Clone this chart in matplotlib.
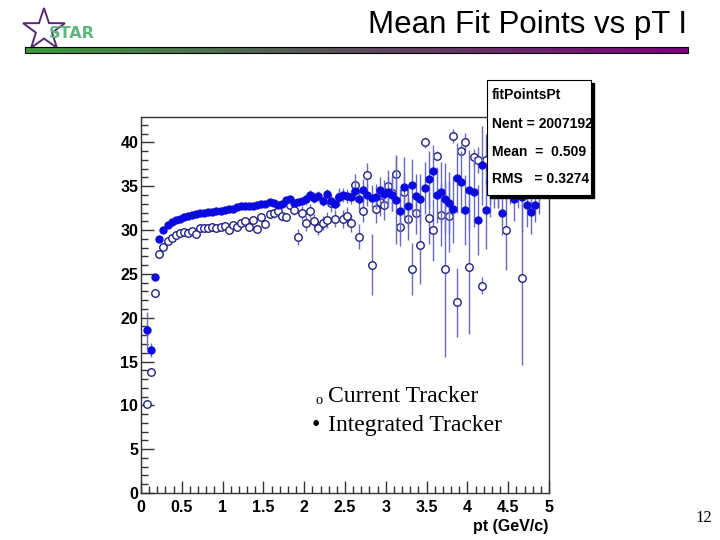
import numpy as np
import matplotlib.pyplot as plt
from matplotlib.patches import Rectangle, Polygon
from matplotlib.ticker import MultipleLocator

# pt bin centres (0.05 GeV/c bins)
pt = np.round(np.arange(0.075, 5.0, 0.05), 3)

# Current Tracker (open circles)
current = [10.2, 13.75, 22.85, 27.3, 28.1, 28.8, 29.05, 29.45, 29.65, 29.75,
           29.7, 29.85, 29.6, 30.2, 30.2, 30.2, 30.35, 30.2, 30.3, 30.5,
           30.05, 30.6, 30.3, 30.85, 31.0, 30.4, 31.15, 30.1, 31.5, 30.7,
           31.85, 31.9, 32.2, 31.55, 31.5, 32.9, 32.25, 29.2, 32.0, 30.75,
           32.2, 31.0, 30.2, 30.85, 31.15, 33.1, 31.3, 33.8, 31.25, 31.6,
           30.75, 35.1, 29.25, 32.2, 36.25, 26.05, 32.35, 33.25, 32.9, 35.0,
           34.2, 36.4, 30.4, 34.3, 31.25, 25.55, 32.0, 28.3, 40.0, 31.4,
           30.0, 38.5, 31.7, 25.55, 31.55, 40.7, 21.75, 39.05, 40.05, 25.8,
           38.3, 38.0, 23.65, 38.0, 37.0, np.nan, 36.0, np.nan, 30.0, np.nan,
           np.nan, np.nan, 24.55, np.nan, np.nan, np.nan, np.nan, np.nan, np.nan]
current_err = [0.2, 0.3, 0.2, 0.15, 0.15, 0.15, 0.15, 0.15, 0.15, 0.15,
               0.15, 0.15, 0.15, 0.2, 0.2, 0.2, 0.2, 0.2, 0.2, 0.2,
               0.2, 0.2, 0.2, 0.2, 0.2, 0.3, 0.3, 0.3, 0.3, 0.3,
               0.3, 0.5, 0.5, 0.5, 0.5, 0.5, 0.5, 0.9, 0.8, 0.8,
               0.8, 0.8, 0.8, 0.8, 0.9, 1.0, 1.0, 1.0, 1.0, 1.0,
               1.0, 1.3, 1.4, 1.3, 1.4, 3.5, 1.5, 1.6, 1.8, 1.9,
               2.0, 2.2, 2.2, 2.2, 2.4, 3.0, 2.5, 4.5, 0.6, 3.0,
               3.5, 0.5, 3.5, 10.0, 4.0, 0.8, 3.9, 0.6, 1.0, 7.7,
               1.0, 1.5, 1.0, 3.0, 4.0, 0.0, 3.5, 0.0, 4.5, 0.0,
               0.0, 0.0, 10.0, 0.0, 0.0, 0.0, 0.0, 0.0, 0.0]

# Integrated Tracker (filled circles)
integrated = [18.55, 16.3, 24.7, 28.95, 30.0, 30.6, 30.9, 31.1, 31.3, 31.45,
              31.6, 31.75, 31.85, 31.95, 32.0, 32.05, 32.1, 32.15, 32.2, 32.3,
              32.35, 32.4, 32.65, 32.7, 32.75, 32.8, 32.8, 32.85, 32.95, 33.0,
              33.2, 33.05, 32.9, 32.95, 33.45, 33.6, 33.1, 33.2, 33.3, 33.5,
              34.0, 33.7, 33.9, 33.3, 34.1, 33.3, 33.0, 33.8, 34.0, 33.9,
              33.8, 34.5, 33.5, 34.55, 34.0, 33.7, 33.8, 34.55, 34.1, 34.3,
              34.0, 33.4, 32.2, 34.9, 32.8, 35.1, 33.9, 33.6, 34.8, 35.85,
              36.7, 34.05, 34.3, 33.6, 33.1, 32.35, 35.9, 35.5, 32.3, 34.6,
              34.35, 31.1, 37.4, 32.3, 35.5, 35.0, 36.0, 31.9, np.nan, 35.0,
              33.5, 35.5, 33.8, 32.9, 32.1, 32.9, 34.3, np.nan, np.nan]
integrated_err = [2.1, 0.8, 0.3, 0.15, 0.1, 0.1, 0.1, 0.1, 0.1, 0.1,
                  0.1, 0.1, 0.1, 0.1, 0.1, 0.1, 0.1, 0.1, 0.1, 0.1,
                  0.1, 0.1, 0.1, 0.1, 0.1, 0.1, 0.15, 0.15, 0.15, 0.2,
                  0.2, 0.3, 0.3, 0.3, 0.3, 0.3, 0.3, 0.3, 0.3, 0.6,
                  0.6, 0.6, 0.6, 0.6, 0.6, 0.6, 0.6, 0.8, 0.8, 0.8,
                  0.8, 1.2, 1.2, 1.3, 1.3, 1.4, 1.4, 1.5, 1.6, 1.7,
                  1.8, 5.0, 2.5, 3.4, 2.5, 3.0, 2.5, 2.8, 3.0, 3.2,
                  3.0, 3.2, 3.5, 4.0, 3.5, 3.8, 4.0, 3.5, 4.0, 4.5,
                  4.0, 4.0, 4.5, 4.5, 4.0, 2.5, 3.5, 2.5, 0.0, 2.0,
                  2.5, 3.0, 4.0, 2.5, 2.5, 2.0, 2.5, 0.0, 0.0]

title = "Mean Fit Points vs pT I"
stats = [("fitPointsPt", 95), ("Nent = 2007192", 124),
         ("Mean  =  0.509", 152), ("RMS   = 0.3274", 179)]

fig = plt.figure(figsize=(7.2, 5.4), dpi=100)

ax = fig.add_axes([141 / 720, 1 - 493 / 540, 408 / 720, 376 / 540])
ax.errorbar(pt, current, yerr=current_err, fmt='o', ms=5.4, mfc='white',
            mec='#20208a', mew=1.0, ecolor='#6868c8', elinewidth=1.0,
            capsize=0, zorder=2)
ax.errorbar(pt, integrated, yerr=integrated_err, fmt='o', ms=5.0,
            mfc='#0a0ae0', mec='#0a0ae0', ecolor='#6868c8', elinewidth=1.0,
            capsize=0, zorder=3)
ax.set_xlim(0, 5)
ax.set_ylim(0, 42.9)
ax.xaxis.set_major_locator(MultipleLocator(0.5))
ax.xaxis.set_minor_locator(MultipleLocator(0.1))
ax.yaxis.set_major_locator(MultipleLocator(5))
ax.yaxis.set_minor_locator(MultipleLocator(1))
ax.tick_params(which='both', direction='in', top=False, right=False,
               width=1, color='#333333')
ax.tick_params(which='major', length=9)
ax.tick_params(which='minor', length=5)
ax.tick_params(axis='y', pad=2)
ax.tick_params(axis='x', pad=5)
for lab in ax.get_yticklabels():
    lab.set_fontfamily('Liberation Sans')
    lab.set_fontweight('bold')
    lab.set_fontsize(11.5)
ax.set_xticks([0, 0.5, 1, 1.5, 2, 2.5, 3, 3.5, 4, 4.5, 5])
ax.set_xticklabels(['0', '0.5', '1', '1.5', '2', '2.5', '3', '3.5', '4', '4.5', '5'],
                   fontfamily='Liberation Sans', fontweight='bold', fontsize=11.5)
for s in ax.spines.values():
    s.set_color('#333333')
    s.set_linewidth(1)

# slide overlay in pixel coordinates
ov = fig.add_axes([0, 0, 1, 1], facecolor='none')
ov.axis('off')

ov.text(548, 527, "pt (GeV/c)", ha='right', va='center', fontsize=11.5,
        fontweight='bold', family='Liberation Sans')

# title and rule
ov.text(687, 25, title, ha='right', va='center', fontsize=22.5,
        family='Liberation Sans')
grad = np.linspace(0, 1, 256)
c0 = np.array([60, 155, 60]) / 255
c1 = np.array([125, 0, 125]) / 255
img = (c0[None, :] * (1 - grad[:, None]) + c1[None, :] * grad[:, None])[None, :, :]
ov.imshow(img, extent=[25, 688, 53, 47], aspect='auto', zorder=1)
ov.add_patch(Rectangle((25, 47), 663, 6, fill=False, ec='black', lw=0.8, zorder=2))

# STAR logo
ang = np.pi / 2 + np.arange(10) * np.pi / 5
rad = np.where(np.arange(10) % 2 == 0, 22, 8.5)
star = np.column_stack([44 + rad * np.cos(ang), 30 - rad * np.sin(ang)])
ov.add_patch(Polygon(star, closed=True, fill=False, ec='#5a2a7a', lw=1.4))
ov.text(72, 33, "STAR", ha='center', va='center', fontsize=11.5,
        fontweight='bold', color='#5cb87a', family='DejaVu Sans')

# legend text
ov.text(315, 401, "o", ha='left', va='center', fontsize=10.5, family='Liberation Serif')
ov.text(328, 397, "Current Tracker", ha='left', va='center', fontsize=17,
        family='Liberation Serif')
ov.text(312, 426, "\u2022", ha='left', va='center', fontsize=17, family='Liberation Serif')
ov.text(328, 426, "Integrated Tracker", ha='left', va='center', fontsize=17,
        family='Liberation Serif')

# stats box
ov.add_patch(Rectangle((490, 83), 104, 115, fc='black', ec='black', zorder=5))
ov.add_patch(Rectangle((487, 80), 104, 115, fc='white', ec='black', lw=0.8, zorder=6))
for txt, yy in stats:
    ov.text(492, yy, txt, ha='left', va='center', fontsize=10, fontweight='bold',
            family='Liberation Sans', zorder=7)

ov.text(712, 518, "12", ha='right', va='center', fontsize=12, family='Liberation Serif')

ov.set_xlim(0, 720)
ov.set_ylim(540, 0)

fig.savefig("out.png", dpi=100)
